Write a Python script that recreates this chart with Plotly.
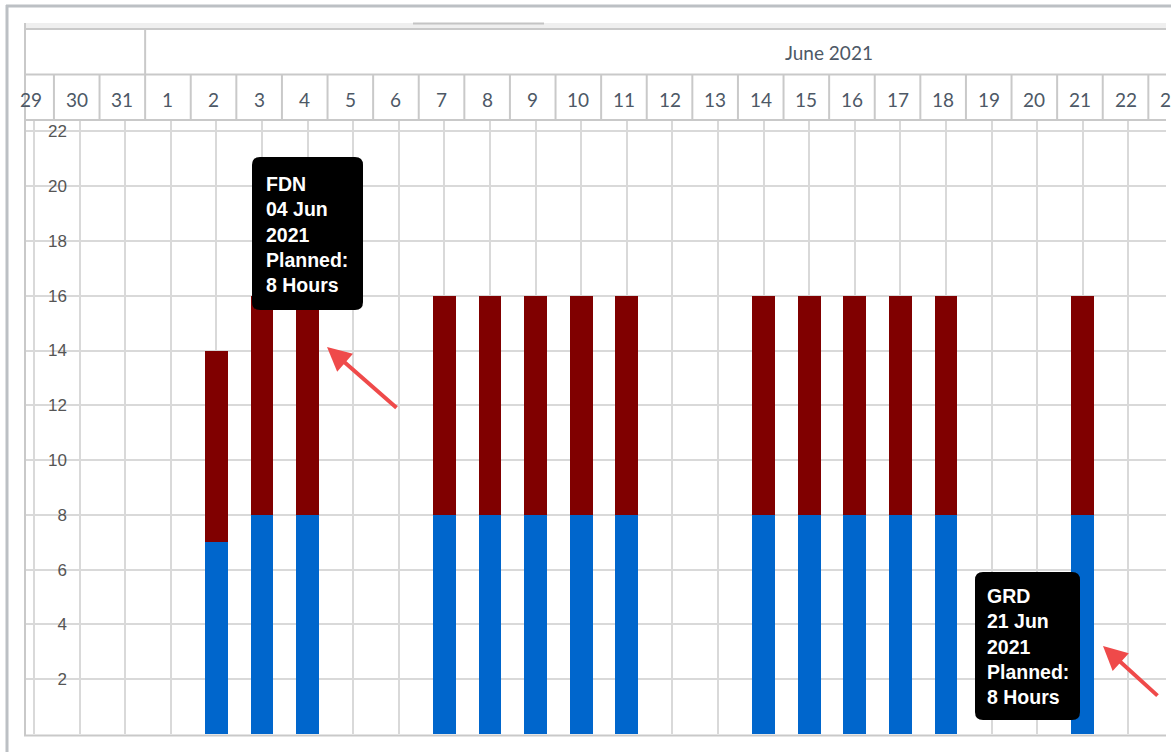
import pandas as pd
import plotly.graph_objects as go

# ---- data -------------------------------------------------------------
day_labels = ["29", "30", "31", "1", "2", "3", "4", "5", "6", "7", "8", "9", "10",
              "11", "12", "13", "14", "15", "16", "17", "18", "19", "20", "21", "22", "23"]
first_day = "2021-05-29"
month_label = "June 2021"
month_start = "2021-06-01"
month_days = 30

work_dates = ["2021-06-02", "2021-06-03", "2021-06-04",
              "2021-06-07", "2021-06-08", "2021-06-09", "2021-06-10", "2021-06-11",
              "2021-06-14", "2021-06-15", "2021-06-16", "2021-06-17", "2021-06-18",
              "2021-06-21"]
grd_hours = [7, 8, 8, 8, 8, 8, 8, 8, 8, 8, 8, 8, 8, 8]
fdn_hours = [7, 8, 8, 8, 8, 8, 8, 8, 8, 8, 8, 8, 8, 8]

y_ticks = [2, 4, 6, 8, 10, 12, 14, 16, 18, 20, 22]

# ---- page geometry helpers ---------------------------------------------
W, H = 1171, 752
PLOT_L, PLOT_R = 24, 1166
PITCH = 45.6          # px per day cell
FIRST_GRID = 34       # px position of the first day gridline


def px(x):
    return x / W


def py(y):
    return 1 - y / H


DAY = pd.Timedelta(days=1)
start = pd.Timestamp(first_day)
dates = [start + i * DAY for i in range(len(day_labels))]
work_ts = [pd.Timestamp(d) for d in work_dates]

# axis window
x0 = start - pd.Timedelta(days=(FIRST_GRID - PLOT_L) / PITCH)
x1 = start + pd.Timedelta(days=(PLOT_R - FIRST_GRID) / PITCH)
CELL_SHIFT = pd.Timedelta(days=0.563)


def day_to_paper(ts):
    """Paper x of a timestamp on the day axis (for header labels past the window)."""
    frac = (ts - x0) / (x1 - x0)
    return px(PLOT_L + frac * (PLOT_R - PLOT_L))


GRID = "#d9d9d9"
HEAD_LINE = "#c9c9c9"
HEAD_TEXT = "#4d5866"

fig = go.Figure()
fig.add_trace(go.Bar(x=work_ts, y=grd_hours, name="GRD",
                     marker=dict(color="#0066cc", line=dict(width=0)),
                     width=0.5 * 86400000))
fig.add_trace(go.Bar(x=work_ts, y=fdn_hours, name="FDN",
                     marker=dict(color="#800000", line=dict(width=0)),
                     width=0.5 * 86400000))

shapes = []
annotations = []

# outer frame
shapes.append(dict(type="line", xref="paper", yref="paper", x0=px(7), x1=px(7),
                   y0=py(5), y1=py(752), line=dict(color="#bcc0c4", width=3)))
shapes.append(dict(type="line", xref="paper", yref="paper", x0=px(6), x1=px(1171),
                   y0=py(6), y1=py(6), line=dict(color="#bcc0c4", width=3)))

# header strip and scroll indicator
shapes.append(dict(type="rect", xref="paper", yref="paper", x0=px(PLOT_L), x1=px(PLOT_R),
                   y0=py(28), y1=py(23), fillcolor="#efefef", line=dict(width=0)))
shapes.append(dict(type="line", xref="paper", yref="paper", x0=px(413), x1=px(544),
                   y0=py(23.5), y1=py(23.5), line=dict(color="#c4c4c4", width=2)))

# header horizontal rules
for yy in (29, 74.5, 120):
    shapes.append(dict(type="line", xref="paper", yref="paper", x0=px(PLOT_L), x1=px(PLOT_R),
                       y0=py(yy), y1=py(yy), line=dict(color=HEAD_LINE, width=2)))
# panel left edge
shapes.append(dict(type="line", xref="paper", yref="paper", x0=px(25), x1=px(25),
                   y0=py(23), y1=py(735), line=dict(color=HEAD_LINE, width=2)))

# month row divider and label
m0 = pd.Timestamp(month_start)
shapes.append(dict(type="line", xref="x", yref="paper", x0=m0 - CELL_SHIFT, x1=m0 - CELL_SHIFT,
                   y0=py(29), y1=py(74.5), line=dict(color=HEAD_LINE, width=2)))
annotations.append(dict(xref="x", yref="paper",
                        x=m0 - CELL_SHIFT + pd.Timedelta(days=month_days / 2), y=py(52),
                        text=month_label, showarrow=False, xanchor="center", yanchor="middle",
                        font=dict(family="Lato", size=19, color=HEAD_TEXT)))

# day row cells
for d, lab in zip(dates, day_labels):
    shapes.append(dict(type="line", xref="x", yref="paper", x0=d - CELL_SHIFT, x1=d - CELL_SHIFT,
                       y0=py(74.5), y1=py(120), line=dict(color=HEAD_LINE, width=2)))
    annotations.append(dict(xref="paper", yref="paper",
                            x=day_to_paper(d - pd.Timedelta(days=0.063)), y=py(99),
                            text=lab, showarrow=False, xanchor="center", yanchor="middle",
                            font=dict(family="Lato", size=19, color=HEAD_TEXT)))

# bottom rule of the chart body
shapes.append(dict(type="line", xref="paper", yref="paper", x0=px(PLOT_L), x1=px(PLOT_R),
                   y0=py(735.5), y1=py(735.5), line=dict(color=HEAD_LINE, width=2)))


# tooltip boxes
def rounded_box(l, t, r, b, rad=8):
    xl, xr = px(l), px(r)
    yt, yb = py(t), py(b)
    rx, ry = rad / W, rad / H
    path = (f"M{xl + rx},{yt} L{xr - rx},{yt} Q{xr},{yt} {xr},{yt - ry} "
            f"L{xr},{yb + ry} Q{xr},{yb} {xr - rx},{yb} "
            f"L{xl + rx},{yb} Q{xl},{yb} {xl},{yb + ry} "
            f"L{xl},{yt - ry} Q{xl},{yt} {xl + rx},{yt} Z")
    return dict(type="path", xref="paper", yref="paper", path=path,
                fillcolor="#000000", line=dict(width=0), layer="above")


def tip_text(name, when, hours):
    return (f"<b>{name}<br>{when.strftime('%d %b')}<br>{when.year}"
            f"<br>Planned:<br>{hours} Hours</b>")


fdn_idx = work_dates.index("2021-06-04")
grd_idx = work_dates.index("2021-06-21")

tips = [
    dict(box=(252, 157, 363, 310), text_x=264, text_y=234,
         label=tip_text("FDN", work_ts[fdn_idx], fdn_hours[fdn_idx]),
         tip=(327, 347), tail=(398, 409)),
    dict(box=(975, 572, 1080, 720), text_x=985, text_y=646,
         label=tip_text("GRD", work_ts[grd_idx], grd_hours[grd_idx]),
         tip=(1103, 646), tail=(1159, 697)),
]
for tp in tips:
    shapes.append(rounded_box(*tp["box"]))
    annotations.append(dict(xref="paper", yref="paper", x=px(tp["text_x"]), y=py(tp["text_y"]),
                            text=tp["label"], showarrow=False, xanchor="left", yanchor="middle",
                            align="left",
                            font=dict(family="Liberation Sans", size=19.5, color="#ffffff")))
    annotations.append(dict(xref="paper", yref="paper", x=px(tp["tip"][0]), y=py(tp["tip"][1]),
                            text="", showarrow=True, arrowhead=2, arrowsize=1.2, arrowwidth=4,
                            arrowcolor="#ef4a4a", ax=tp["tail"][0] - tp["tip"][0],
                            ay=tp["tail"][1] - tp["tip"][1]))

fig.update_layout(
    width=W, height=H,
    margin=dict(l=0, r=0, t=0, b=0),
    paper_bgcolor="#ffffff", plot_bgcolor="#ffffff",
    barmode="stack", bargap=0,
    showlegend=False,
    shapes=shapes, annotations=annotations,
    xaxis=dict(type="date", range=[x0, x1], domain=[px(PLOT_L), px(PLOT_R)],
               tickmode="array", tickvals=dates, showticklabels=False, ticks="",
               showgrid=True, gridcolor=GRID, gridwidth=2, zeroline=False,
               showline=False),
    yaxis=dict(range=[0, 22.38], domain=[py(734), py(121)],
               anchor="free", position=px(67),
               tickmode="array", tickvals=y_ticks, ticks="",
               showgrid=True, gridcolor=GRID, gridwidth=2, zeroline=False,
               showline=False,
               tickfont=dict(family="Liberation Sans", size=17, color="#555555")),
)

fig.write_html("out.html")
